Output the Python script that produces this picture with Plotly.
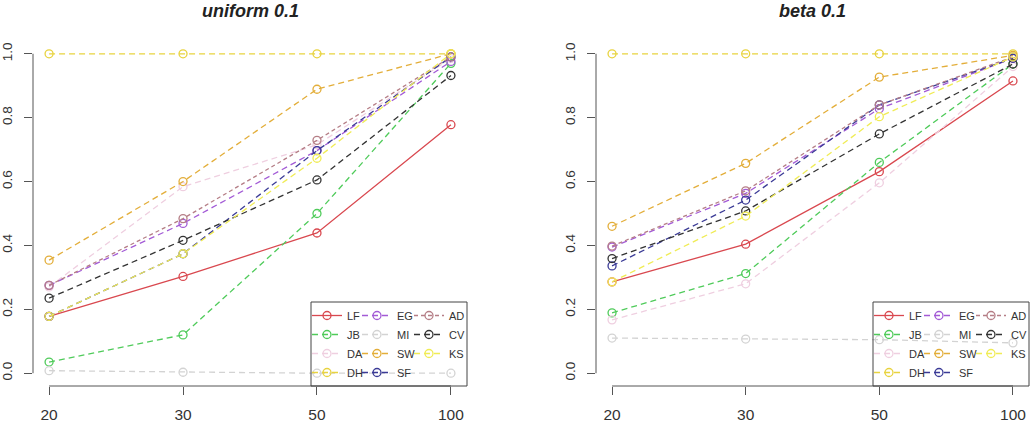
import plotly.graph_objects as go

# ---------------- data ----------------
categories = ["20", "30", "50", "100"]
series_names = ["LF", "JB", "DA", "DH", "EG", "MI", "SW", "SF", "AD", "CV", "KS"]

uniform_LF = [0.178, 0.303, 0.439, 0.778]
uniform_JB = [0.035, 0.120, 0.500, 0.970]
uniform_DA = [0.270, 0.584, 0.715, 0.985]
uniform_DH = [1.000, 1.000, 1.000, 1.000]
uniform_EG = [0.275, 0.469, 0.697, 0.976]
uniform_MI = [0.008, 0.003, 0.000, 0.000]
uniform_SW = [0.354, 0.600, 0.889, 1.000]
uniform_SF = [0.178, 0.374, 0.697, 0.990]
uniform_AD = [0.275, 0.484, 0.729, 0.990]
uniform_CV = [0.235, 0.416, 0.605, 0.932]
uniform_KS = [0.178, 0.374, 0.673, 1.000]

beta_LF = [0.286, 0.404, 0.631, 0.915]
beta_JB = [0.189, 0.312, 0.660, 0.968]
beta_DA = [0.167, 0.280, 0.596, 0.960]
beta_DH = [1.000, 1.000, 1.000, 1.000]
beta_EG = [0.395, 0.563, 0.828, 0.986]
beta_MI = [0.110, 0.107, 0.105, 0.095]
beta_SW = [0.460, 0.657, 0.927, 0.995]
beta_SF = [0.336, 0.542, 0.840, 0.986]
beta_AD = [0.398, 0.571, 0.840, 0.990]
beta_CV = [0.359, 0.508, 0.749, 0.968]
beta_KS = [0.286, 0.492, 0.803, 0.990]

y_ticks = [0.0, 0.2, 0.4, 0.6, 0.8, 1.0]
y_ticklabels = ["0.0", "0.2", "0.4", "0.6", "0.8", "1.0"]
panel_titles = ["uniform 0.1", "beta 0.1"]

uniform_vals = [uniform_LF, uniform_JB, uniform_DA, uniform_DH, uniform_EG, uniform_MI,
                uniform_SW, uniform_SF, uniform_AD, uniform_CV, uniform_KS]
beta_vals = [beta_LF, beta_JB, beta_DA, beta_DH, beta_EG, beta_MI,
             beta_SW, beta_SF, beta_AD, beta_CV, beta_KS]

# ---------------- styles ----------------
colors = {
    "LF": "#D9484F", "JB": "#4FCB5A", "DA": "#EFCFE0", "DH": "#E8D33F",
    "EG": "#A35BD6", "MI": "#D3D3D3", "SW": "#E3AE3A", "SF": "#3B3B96",
    "AD": "#B57E86", "CV": "#333333", "KS": "#F0EC55",
}
dashes = {n: "6px,4px" for n in series_names}
dashes["LF"] = "solid"
dashes["AD"] = "4px,3px"
legend_col = {"LF": 0, "JB": 0, "DA": 0, "DH": 0, "EG": 1, "MI": 1, "SW": 1, "SF": 1,
              "AD": 2, "CV": 2, "KS": 2}

W, H = 1035, 432
FONT = "Arial, Liberation Sans, sans-serif"
TXT = "#333333"
AX = "#555555"

# plot regions in pixels (left, right)
panels_px = [(33, 467), (596, 1029)]
top_px, bot_px = 41, 386
ydom = [1 - bot_px / H, 1 - top_px / H]

fig = go.Figure()

for p, vals in enumerate([uniform_vals, beta_vals]):
    xa = "x" if p == 0 else "x2"
    ya = "y" if p == 0 else "y2"
    for name, v in zip(series_names, vals):
        lg_index = p * 3 + legend_col[name] + 1
        lg = "legend" if lg_index == 1 else f"legend{lg_index}"
        fig.add_trace(go.Scatter(
            x=categories, y=v, name=name, mode="lines+markers",
            xaxis=xa, yaxis=ya, legend=lg,
            line=dict(color=colors[name], width=1.3, dash=dashes[name]),
            marker=dict(symbol="circle-open", size=8, color=colors[name],
                        line=dict(width=1.3, color=colors[name])),
        ))

layout = dict(
    width=W, height=H, margin=dict(l=0, r=0, t=0, b=0),
    paper_bgcolor="white", plot_bgcolor="white",
    font=dict(family=FONT, color=TXT),
    showlegend=True,
)

xrange = [-0.12, 3.12]
span = xrange[1] - xrange[0]
shapes = []
annotations = []
for p, (l, r) in enumerate(panels_px):
    sfx = "" if p == 0 else "2"
    layout["xaxis" + sfx] = dict(
        domain=[l / W, r / W], anchor="y" + sfx, type="category",
        range=xrange, showgrid=False, zeroline=False, showline=False,
        ticks="outside", ticklen=8, tickwidth=1, tickcolor=AX,
        tickfont=dict(size=15.5, color=TXT, family=FONT), ticklabelstandoff=6,
    )
    layout["yaxis" + sfx] = dict(
        domain=ydom, anchor="x" + sfx, range=[-0.04, 1.04],
        tickvals=y_ticks, ticktext=y_ticklabels, tickangle=-90,
        showgrid=False, zeroline=False, showline=False,
        ticks="outside", ticklen=8, tickwidth=1, tickcolor=AX,
        tickfont=dict(size=13.5, color=TXT, family=FONT), ticklabelstandoff=7,
    )
    # axis lines spanning first to last tick (R style)
    shapes.append(dict(type="line", xref="x" + sfx + " domain", yref="y" + sfx,
                       x0=0, x1=0, y0=y_ticks[0], y1=y_ticks[-1],
                       line=dict(color=AX, width=1)))
    shapes.append(dict(type="line", xref="x" + sfx + " domain", yref="y" + sfx + " domain",
                       x0=(0 - xrange[0]) / span, x1=(len(categories) - 1 - xrange[0]) / span,
                       y0=0, y1=0, line=dict(color=AX, width=1)))
    # title
    annotations.append(dict(
        text=panel_titles[p], xref="paper", yref="paper",
        x=((l + r) / 2) / W, y=1, xanchor="center", yanchor="top",
        showarrow=False, borderpad=0,
        font=dict(size=18, color="#222222", family=FONT, weight="bold", style="italic"),
    ))
    # legend box
    box_l = r - 156
    shapes.append(dict(type="rect", xref="paper", yref="paper",
                       x0=box_l / W, x1=r / W, y0=1 - bot_px / H, y1=1 - 302 / H,
                       line=dict(color="#444444", width=1), fillcolor="rgba(0,0,0,0)",
                       layer="above"))
    for c, off in enumerate([-4, 46, 98]):
        idx = p * 3 + c + 1
        key = "legend" if idx == 1 else f"legend{idx}"
        layout[key] = dict(
            x=(box_l + off) / W, xanchor="left", y=1 - 301 / H, yanchor="top",
            orientation="v", bgcolor="rgba(0,0,0,0)", borderwidth=0,
            font=dict(size=11, color=TXT, family=FONT), itemwidth=30,
            tracegroupgap=0,
        )

layout["shapes"] = shapes
layout["annotations"] = annotations
fig.update_layout(**layout)

fig.write_html("out.html")
